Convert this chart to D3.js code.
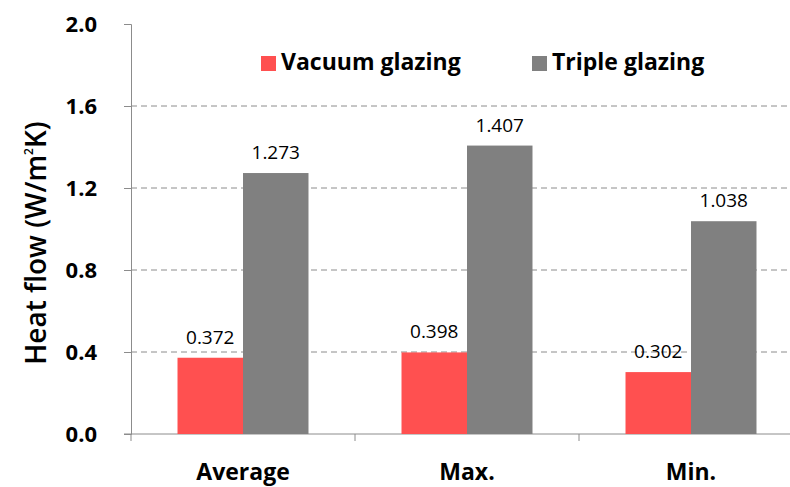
<!DOCTYPE html>
<html><head><meta charset="utf-8">
<script src="https://cdn.jsdelivr.net/npm/d3@7"></script>
<style>body{margin:0;background:#fff}svg{display:block}text{font-family:"Open Sans",sans-serif}</style>
</head><body>
<svg id="c" width="790" height="487"></svg>
<script>
const categories = ["Average", "Max.", "Min."];
const seriesNames = ["Vacuum glazing", "Triple glazing"];
const vacuum = [0.372, 0.398, 0.302];
const triple = [1.273, 1.407, 1.038];
const yTicks = [0.0, 0.4, 0.8, 1.2, 1.6, 2.0];
const colors = ["#ff5050", "#808080"];

const svg = d3.select("#c");
const x0 = 131, x1 = 803, yTop = 24, yBot = 434;
const x = d3.scaleBand().domain(categories).range([x0, x1]).paddingInner(0).paddingOuter(0);
const xs = d3.scaleBand().domain(seriesNames).range([0, x.bandwidth()]).paddingInner(0).paddingOuter(0.71);
const y = d3.scaleLinear().domain([0, 2]).range([yBot, yTop]);

// gridlines
svg.append("g").selectAll("line").data(yTicks.filter(t => t > 0 && t < 2)).join("line")
  .attr("x1", x0).attr("x2", 790).attr("y1", d => y(d)).attr("y2", d => y(d))
  .attr("stroke", "#8c8c8c").attr("stroke-width", 1).attr("stroke-dasharray", "6,4");

// y axis
const ya = svg.append("g").attr("transform", `translate(${x0},0)`)
  .call(d3.axisLeft(y).tickValues(yTicks).tickFormat(d3.format(".1f")).tickSizeOuter(0).tickSize(7).tickPadding(27));
ya.select(".domain").attr("stroke", "#8c8c8c");
ya.selectAll(".tick line").attr("stroke", "#8c8c8c");
ya.selectAll("text").attr("font-size", 22).attr("font-weight", "bold").attr("fill", "#000")
  .attr("font-family", "Open Sans").attr("dy", "0.36em");

// x axis
const xa = svg.append("g").attr("transform", `translate(0,${yBot})`);
xa.append("line").attr("x1", x0 - 7).attr("x2", 790).attr("stroke", "#8c8c8c");
xa.selectAll("line.t").data([...categories.map(c => x(c)), x1]).join("line").attr("class", "t")
  .attr("x1", d => d).attr("x2", d => d).attr("y1", 0).attr("y2", 7).attr("stroke", "#8c8c8c");
xa.selectAll("text").data(categories).join("text")
  .attr("x", d => x(d) + x.bandwidth() / 2).attr("y", 46)
  .attr("text-anchor", "middle").attr("font-size", 23).attr("font-weight", "bold").text(d => d);

// bars
const data = categories.map((c, i) => ({c, vals: [vacuum[i], triple[i]]}));
const groups = svg.append("g").selectAll("g").data(data).join("g")
  .attr("transform", d => `translate(${x(d.c)},0)`);
groups.selectAll("rect").data(d => d.vals.map((v, j) => ({v, s: seriesNames[j], j}))).join("rect")
  .attr("x", d => xs(d.s)).attr("width", xs.bandwidth())
  .attr("y", d => y(d.v)).attr("height", d => yBot - y(d.v)).attr("fill", d => colors[d.j]);
groups.selectAll("text").data(d => d.vals.map((v, j) => ({v, s: seriesNames[j], j}))).join("text")
  .attr("x", d => xs(d.s) + xs.bandwidth() / 2).attr("y", d => y(d.v) - 14)
  .attr("text-anchor", "middle").attr("font-size", 19).attr("fill", "#000")
  .text(d => d3.format(".3f")(d.v));

// y label
svg.append("text").attr("transform", "translate(46,243) rotate(-90)")
  .attr("text-anchor", "middle").attr("font-size", 28).attr("font-weight", 600)
  .html('Heat flow (W/m<tspan font-size="12" dy="-13">2</tspan><tspan dy="13">K)</tspan>');

// legend
const lg = svg.append("g");
const lx = [261, 532];
seriesNames.forEach((s, i) => {
  lg.append("rect").attr("x", lx[i]).attr("y", 56).attr("width", 15).attr("height", 15).attr("fill", colors[i]);
  lg.append("text").attr("x", lx[i] + 20).attr("y", 70).attr("font-size", 23).attr("font-weight", "bold").text(s);
});
</script>
</body></html>
